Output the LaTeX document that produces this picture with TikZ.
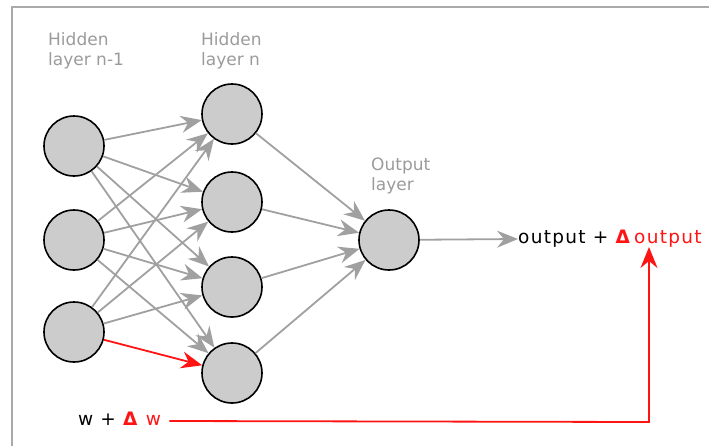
\documentclass[tikz,border=0pt]{standalone}
\usepackage{fontspec}
\setmainfont{DejaVu Sans}
\newfontfamily\trackfont[LetterSpace=7]{DejaVu Sans}
\usetikzlibrary{arrows.meta}
\definecolor{nodefill}{RGB}{204,204,204}
\definecolor{linegray}{RGB}{160,160,160}
\definecolor{labelgray}{RGB}{155,155,155}
\definecolor{framegray}{RGB}{170,170,170}
\definecolor{myred}{RGB}{255,20,20}
\tikzset{
  neuron/.style={circle,draw=black,line width=1.6pt,fill=nodefill,minimum size=60pt,inner sep=0pt},
  conn/.style={draw=linegray,line width=1.8pt,-{Stealth[length=21pt,width=17pt,inset=7pt]}},
  redconn/.style={draw=myred,line width=1.8pt,-{Stealth[length=21pt,width=17pt,inset=7pt]}},
  lbl/.style={text=labelgray,font=\fontsize{17}{20}\selectfont,align=left,anchor=north west,inner sep=0pt},
  txt/.style={font=\trackfont\fontsize{18.5}{22}\selectfont,inner sep=0pt}
}
\begin{document}
\begin{tikzpicture}[x=1pt,y=-1pt]
\useasboundingbox (0,0) rectangle (709,445);
\draw[framegray,line width=2pt] (12,446) -- (12,7) -- (710,7);
% labels
\node[lbl] (l1) at (48,32) {Hidden\\layer n-1};
\node[lbl] (l2) at (201,32) {Hidden\\layer n};
\node[lbl] (l3) at (371,158) {Output\\layer};
% neurons
\node[neuron] (a1) at (74,146) {};
\node[neuron] (a2) at (74,240) {};
\node[neuron] (a3) at (74,332) {};
\node[neuron] (b1) at (232,114) {};
\node[neuron] (b2) at (232,202) {};
\node[neuron] (b3) at (232,287) {};
\node[neuron] (b4) at (232,373) {};
\node[neuron] (c) at (389,240) {};
% connections
\foreach \i in {1,2,3}{
  \foreach \j in {1,2,3,4}{
    \ifnum\i=3 \ifnum\j=4 \else \draw[conn] (a\i) -- (b\j); \fi
    \else \draw[conn] (a\i) -- (b\j); \fi
  }
}
\draw[redconn] (a3) -- (b4);
\foreach \j in {1,2,3,4}{ \draw[conn] (b\j) -- (c); }
% output
\node[txt,anchor=west] (out) at (518,239) {output + \textcolor{myred}{\textbf{Δ}\kern3pt output}};
\draw[conn] (c) -- (out.west);
\node[txt,anchor=west] (w) at (78,419) {w + \textcolor{myred}{\textbf{Δ} w}};
\coordinate (corner) at (649,422);
\draw[redconn] (w.east) ++(8,2) -- (corner) -- (649,247);
\end{tikzpicture}
\end{document}
